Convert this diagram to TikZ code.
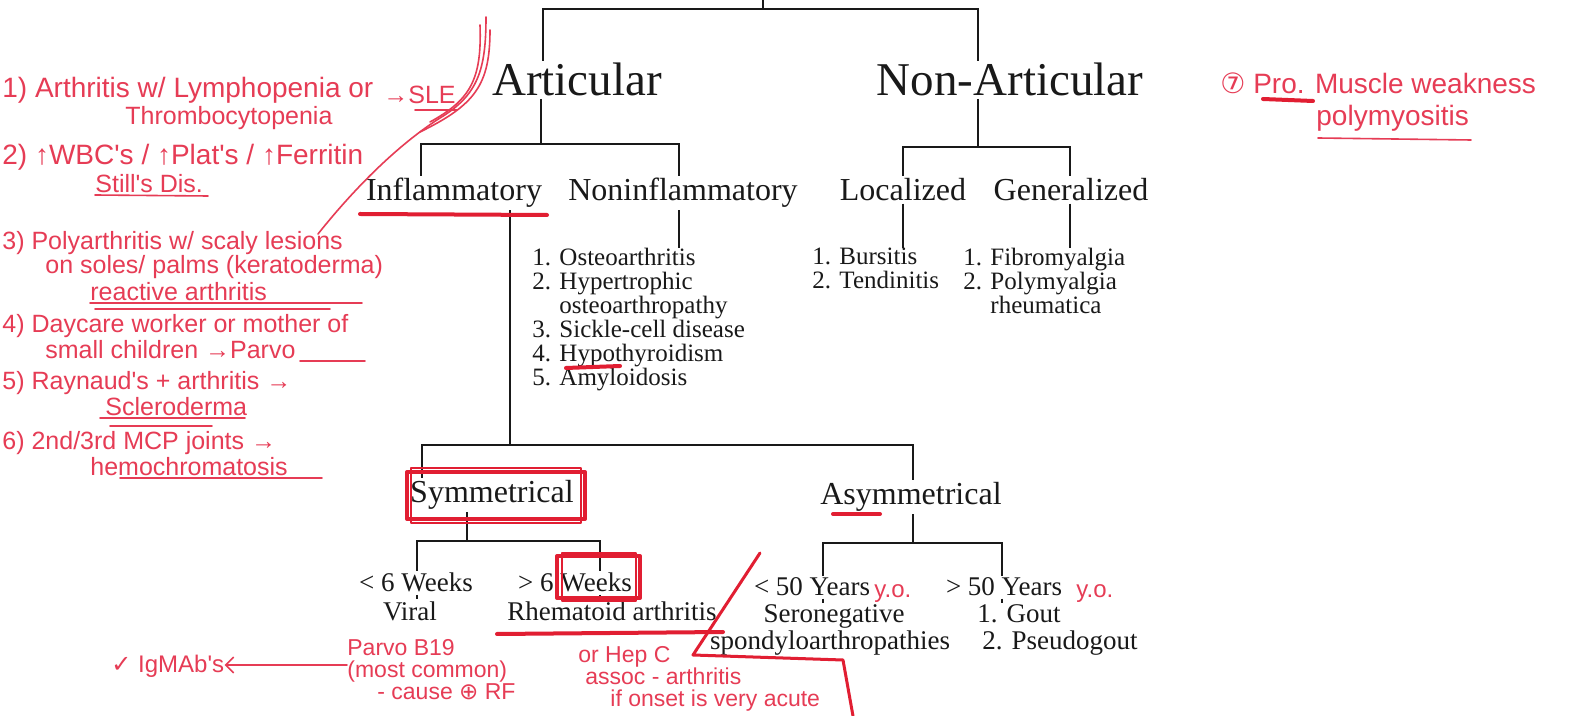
\documentclass[tikz,border=0pt]{standalone}
\usepackage{fontspec}
\setmainfont{Liberation Serif}
\newfontfamily\handfont{Liberation Sans}
\newfontfamily\symbfont{DejaVu Sans}
\usetikzlibrary{arrows.meta}
\definecolor{inkred}{RGB}{230,60,85}
\definecolor{markred}{RGB}{225,30,50}
\definecolor{printblack}{RGB}{25,25,25}
\tikzset{
  big/.style={font=\fontsize{23.5}{26}\selectfont, inner sep=1pt, anchor=base, text=printblack},
  mid/.style={font=\fontsize{16}{18}\selectfont, inner sep=1pt, anchor=base, text=printblack},
  items/.style={font=\fontsize{12.5}{12}\selectfont, align=left, anchor=north west, inner sep=0pt, text=printblack},
  leaf/.style={font=\fontsize{13.5}{13}\selectfont, inner sep=1pt, anchor=base, text=printblack},
  tree/.style={line width=0.9pt, color=printblack},
  note/.style={font=\handfont\fontsize{12.5}{13}\selectfont, text=inkred, anchor=west, inner sep=0pt},
  bignote/.style={note, font=\handfont\fontsize{14}{15}\selectfont},
  lownote/.style={note, font=\handfont\fontsize{11.5}{12}\selectfont, anchor=base west},
  scrawl/.style={inkred, line width=0.8pt, line cap=round},
  redmark/.style={markred, line width=2pt, line cap=round, line join=round}
}
\begin{document}
\begin{tikzpicture}[x=0.5pt, y=-0.5pt]
  \fill[white] (0,0) rectangle (1570,716);
  \useasboundingbox (0,0) rectangle (1570,716);

  % Main branches
  \node[big] (art) at (577,96) {Articular};
  \node[big] (nonart) at (1010,96) {Non-Articular};

  % Second level
  \node[mid] (inf) at (454,201) {Inflammatory};
  \node[mid] (noninf) at (683,201) {Noninflammatory};
  \node[mid] (loc) at (903,201) {Localized};
  \node[mid] (gen) at (1071,201) {Generalized};

  % Lists
  \node[items] (nilist) at (532,248) {1. Osteoarthritis\\2. Hypertrophic\\\hphantom{2. }osteoarthropathy\\3. Sickle-cell disease\\4. Hypothyroidism\\5. Amyloidosis};
  \node[items] (loclist) at (812,248) {1. Bursitis\\2. Tendinitis};
  \node[items] (genlist) at (963,248) {1. Fibromyalgia\\2. Polymyalgia\\\hphantom{2. }rheumatica};

  % Third level
  \node[mid] (symm) at (492,503) {Symmetrical};
  \node[mid] (asymm) at (911,505) {Asymmetrical};

  % Leaves
  \node[leaf] (lt6) at (416,592) {< 6 Weeks};
  \node[leaf] (viral) at (410,620) {Viral};
  \node[leaf] (gt6) at (575,592) {> 6 Weeks};
  \node[leaf] (ra) at (612,620) {Rhematoid arthritis};
  \node[leaf] (lt50) at (812,596) {< 50 Years};
  \node[leaf] (sero) at (834,623) {Seronegative};
  \node[leaf] (spondy) at (830,649) {spondyloarthropathies};
  \node[leaf] (gt50) at (1004,596) {> 50 Years};
  \node[leaf, anchor=base west] (gout) at (975,623) {1. Gout};
  \node[leaf, anchor=base west] (pseudo) at (980,649) {2. Pseudogout};

  % Connections
  \coordinate (top) at (763,0);
  \coordinate (artX) at (543,9);
  \coordinate (nonartX) at (978,9);
  \draw[tree] (top) |- (artX) -- (artX |- art.north);
  \draw[tree] (top) |- (nonartX) -- (nonartX |- nonart.north);

  \coordinate (artJ) at (541,144);
  \coordinate (infX) at (421,144);
  \coordinate (noninfX) at (679,144);
  \draw[tree] (artJ |- art.south) -- (artJ) -- (infX) -- (infX |- inf.north);
  \draw[tree] (artJ) -- (noninfX) -- (noninfX |- noninf.north);
  \draw[tree] (noninfX |- noninf.south) -- (noninfX |- nilist.north);

  \coordinate (nonartJ) at (978,147);
  \coordinate (locX) at (903,147);
  \coordinate (genX) at (1070,147);
  \draw[tree] (nonartJ |- nonart.south) -- (nonartJ) -- (locX) -- (locX |- loc.north);
  \draw[tree] (nonartJ) -- (genX) -- (genX |- gen.north);
  \draw[tree] (locX |- loc.south) -- (locX |- loclist.north);
  \draw[tree] (genX |- gen.south) -- (genX |- genlist.north);

  \coordinate (infJ) at (510,445);
  \coordinate (symX) at (422,445);
  \coordinate (asymX) at (913,445);
  \draw[tree] (infJ |- inf.south) -- (infJ) -- (symX) -- (symX |- symm.north);
  \draw[tree] (infJ) -- (asymX) -- (asymX |- asymm.north);

  \coordinate (symJ) at (467,541);
  \coordinate (lt6X) at (417,541);
  \coordinate (gt6X) at (600,541);
  \draw[tree] (symJ |- symm.south) -- (symJ) -- (lt6X) -- (lt6X |- lt6.north);
  \draw[tree] (symJ) -- (gt6X) -- (gt6X |- gt6.north);
  \draw[tree] (lt6X |- lt6.south) -- (lt6X |- viral.north);
  \draw[tree] (gt6X |- gt6.south) -- (gt6X |- ra.north);

  \coordinate (asymJ) at (913,543);
  \coordinate (lt50X) at (823,543);
  \coordinate (gt50X) at (1002,543);
  \draw[tree] (asymJ |- asymm.south) -- (asymJ) -- (lt50X) -- (lt50X |- lt50.north);
  \draw[tree] (asymJ) -- (gt50X) -- (gt50X |- gt50.north);
  \draw[tree] (lt50X |- lt50.south) -- (lt50X |- sero.north);
  \draw[tree] (gt50X |- gt50.south) -- (gt50X |- gout.north);

  % Handwritten notes
  \node[bignote] (n1a) at (2,90) {1) Arthritis w/ Lymphopenia or};
  \node[note] (n1b) at (125,118) {Thrombocytopenia};
  \node[note] (n1c) at (383,95) {→SLE};
  \node[bignote] (n2a) at (2,157) {2) ↑WBC's / ↑Plat's / ↑Ferritin};
  \node[note] (n2b) at (95,184) {Still's Dis.};
  \node[note] (n3a) at (2,243) {3) Polyarthritis w/ scaly lesions};
  \node[note] (n3b) at (45,267) {on soles/ palms (keratoderma)};
  \node[note] (n3c) at (90,292) {reactive arthritis};
  \node[note] (n4a) at (2,326) {4) Daycare worker or mother of};
  \node[note] (n4b) at (45,350) {small children →Parvo};
  \node[note] (n5a) at (2,383) {5) Raynaud's + arthritis →};
  \node[note] (n5b) at (105,407) {Scleroderma};
  \node[note] (n6a) at (2,443) {6) 2nd/3rd MCP joints →};
  \node[note] (n6b) at (90,467) {hemochromatosis};
  \node[lownote, font=\handfont\fontsize{12}{13}\selectfont] (igm) at (111,673) {{\symbfont ✓} IgMAb's};
  \node[lownote] (parvo1) at (347,655) {Parvo B19};
  \node[lownote] (parvo2) at (347,677) {(most common)};
  \node[lownote] (parvo3) at (377,699) {- cause {\symbfont ⊕} RF};
  \node[lownote] (hep1) at (578,662) {or Hep C};
  \node[lownote] (hep2) at (585,684) {assoc - arthritis};
  \node[lownote] (hep3) at (610,706) {if onset is very acute};
  \node[note, anchor=base west, font=\handfont\fontsize{12}{13}\selectfont] (yo1) at (874,597) {y.o.};
  \node[note, anchor=base west, font=\handfont\fontsize{12}{13}\selectfont] (yo2) at (1076,597) {y.o.};
  \node[bignote, anchor=base west] (n7a) at (1220,94) {{\symbfont ⑦} Pro. Muscle weakness};
  \node[bignote, anchor=base west] (n7b) at (1316,126) {polymyositis};
  \draw[scrawl, -{Straight Barb[length=4pt]}] (parvo1.west |- 0,665) -- (igm.east |- 0,665);

  % Red marks
  \draw[scrawl] (486,17) .. controls (486,70) and (478,95) .. (440,118) .. controls (390,150) and (345,200) .. (318,234);
  \draw[scrawl] (480,25) .. controls (482,80) and (470,100) .. (430,122);
  \draw[scrawl] (490,30) .. controls (490,85) and (475,105) .. (420,132);
  \draw[redmark] (360,214) -- (547,215);
  \draw[redmark] (566,368) -- (620,366);
  \draw[redmark] (407,472) rectangle (585,519);
  \draw[redmark, line width=1.2pt] (411,468) rectangle (581,523);
  \draw[redmark] (557,556) rectangle (640,598);
  \draw[redmark, line width=1.2pt] (562,553) rectangle (636,601);
  \draw[redmark] (497,634) -- (723,632);
  \draw[redmark] (833,514) -- (880,514);
  \draw[redmark, line width=1.5pt] (760,553) -- (693,655) -- (843,660) -- (853,716);
  \draw[redmark] (1263,99) -- (1313,101);

  % Note underlines
  \draw[scrawl] (415,110) -- (457,110);
  \draw[scrawl] (95,195) -- (208,196);
  \draw[scrawl] (90,303) -- (362,303);
  \draw[scrawl] (95,309) -- (330,309);
  \draw[scrawl] (300,361) -- (365,361);
  \draw[scrawl] (100,418) -- (245,418);
  \draw[scrawl] (110,426) -- (212,426);
  \draw[scrawl] (120,478) -- (322,478);
  \draw[scrawl] (1318,138) -- (1471,140);
\end{tikzpicture}
\end{document}
